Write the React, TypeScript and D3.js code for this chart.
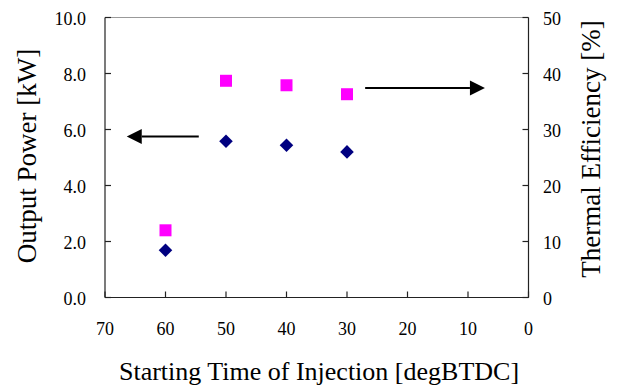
import React from "react";
import * as d3 from "d3";

const injectionTiming = [60, 50, 40, 30];
const outputPower = [1.69, 5.58, 5.44, 5.2];
const thermalEfficiency = [12.0, 38.7, 37.9, 36.3];

const xTicks = [70, 60, 50, 40, 30, 20, 10, 0];
const yLeftTicks = [0, 2, 4, 6, 8, 10];
const yRightTicks = [0, 10, 20, 30, 40, 50];

// annotation arrows in data units: [xFrom, xTo, y]
const powerArrow = [54.5, 66.4, 5.75];
const effArrow = [27.0, 7.2, 37.4];

const W = 619;
const H = 385;
const L = 105;
const R = 528.5;
const T = 17.5;
const B = 297.5;

const FONT = "Liberation Serif, Times New Roman, Times, DejaVu Serif, serif";

export default function App() {
  const x = d3.scaleLinear().domain([70, 0]).range([L, R]);
  const yL = d3.scaleLinear().domain([0, 10]).range([B, T]);
  const yR = d3.scaleLinear().domain([0, 50]).range([B, T]);
  const sq = d3.symbol().type(d3.symbolSquare).size(144)() as string;
  const dia = d3.symbol().type(d3.symbolSquare).size(92)() as string;
  const head = 15;
  const half = 7.5;
  const ts = { fontFamily: FONT };

  const arrow = (x0: number, x1: number, y: number, key: string) => {
    const dir = x1 > x0 ? 1 : -1;
    const tip = x1;
    const base = tip - dir * head;
    return (
      <g key={key}>
        <line x1={x0} x2={base} y1={y} y2={y} stroke="#000" strokeWidth={2} />
        <path d={`M${tip},${y} L${base},${y - half} L${base},${y + half} Z`} fill="#000" />
      </g>
    );
  };

  return (
    <svg width={W} height={H} style={{ position: "absolute", left: 0, top: 0, background: "#fff", fontFamily: FONT }}>
      <rect width={W} height={H} fill="#fff" />
      {/* frame */}
      <line x1={L} x2={R} y1={T} y2={T} stroke="#999" strokeWidth={1.2} />
      <line x1={L} x2={L} y1={T} y2={B} stroke="#222" strokeWidth={1.2} />
      <line x1={R} x2={R} y1={T} y2={B} stroke="#222" strokeWidth={1.2} />
      <line x1={L} x2={R} y1={B} y2={B} stroke="#222" strokeWidth={1.2} />
      {/* x ticks */}
      {xTicks.map((t) => (
        <g key={"x" + t}>
          <line x1={x(t)} x2={x(t)} y1={B} y2={B - 6} stroke="#222" strokeWidth={1.2} />
          <text x={x(t)} y={335} textAnchor="middle" fontSize={18} style={ts}>{t}</text>
        </g>
      ))}
      {yLeftTicks.map((t) => (
        <g key={"yl" + t}>
          <line x1={L} x2={L + 6} y1={yL(t)} y2={yL(t)} stroke="#222" strokeWidth={1.2} />
          <text x={86} y={yL(t) + 7.5} textAnchor="end" fontSize={18} style={ts}>{t.toFixed(1)}</text>
        </g>
      ))}
      {yRightTicks.map((t) => (
        <g key={"yr" + t}>
          <line x1={R} x2={R - 6} y1={yR(t)} y2={yR(t)} stroke="#222" strokeWidth={1.2} />
          <text x={543} y={yR(t) + 7.5} textAnchor="start" fontSize={18} style={ts}>{t}</text>
        </g>
      ))}
      {/* markers */}
      {injectionTiming.map((t, i) => (
        <path key={"p" + i} d={dia} transform={`translate(${x(t)},${yL(outputPower[i])}) rotate(45)`} fill="#000080" />
      ))}
      {injectionTiming.map((t, i) => (
        <path key={"e" + i} d={sq} transform={`translate(${x(t)},${yR(thermalEfficiency[i])})`} fill="#FF00FF" />
      ))}
      {arrow(x(powerArrow[0]), x(powerArrow[1]), yL(powerArrow[2]), "a1")}
      {arrow(x(effArrow[0]), x(effArrow[1]), yR(effArrow[2]), "a2")}
      {/* titles */}
      <text x={319} y={380} textAnchor="middle" fontSize={26} style={ts}>Starting Time of Injection [degBTDC]</text>
      <text transform={`translate(36,156) rotate(-90)`} textAnchor="middle" fontSize={27} style={ts}>Output Power [kW]</text>
      <text transform={`translate(600,149) rotate(-90)`} textAnchor="middle" fontSize={27} style={ts}>Thermal Efficiency [%]</text>
    </svg>
  );
}
